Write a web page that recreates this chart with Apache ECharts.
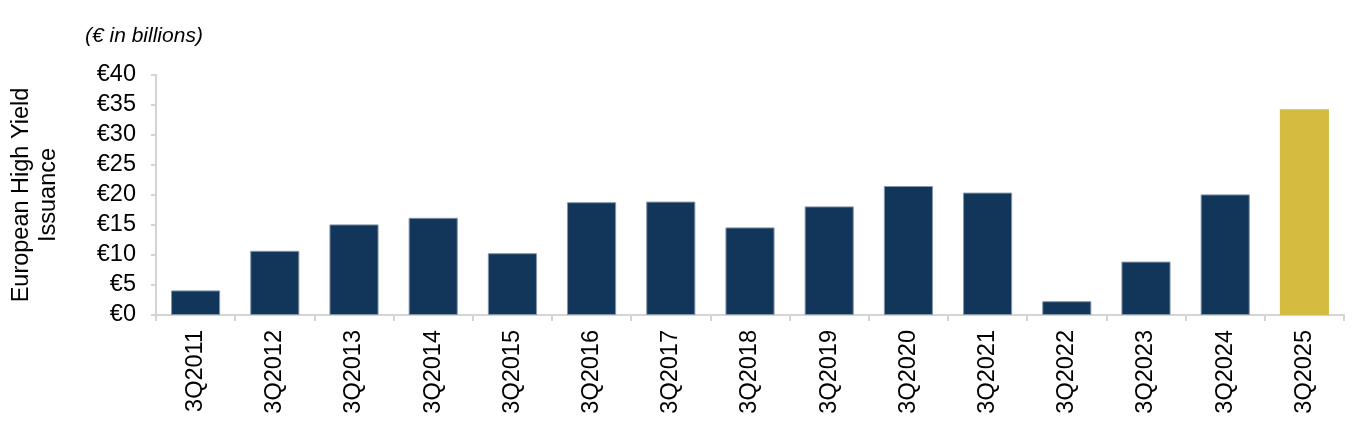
<!DOCTYPE html>
<html>
<head>
<meta charset="utf-8">
<script src="https://cdn.jsdelivr.net/npm/echarts@6/dist/echarts.min.js"></script>
<style>
  html, body { margin: 0; padding: 0; background: #fff; }
  #chart { width: 1356px; height: 432px; }
</style>
</head>
<body>
<div id="chart"></div>
<script>
  // quarters and issuance (€ bn)
  const quarters = ['3Q2011', '3Q2012', '3Q2013', '3Q2014', '3Q2015', '3Q2016', '3Q2017', '3Q2018',
    '3Q2019', '3Q2020', '3Q2021', '3Q2022', '3Q2023', '3Q2024', '3Q2025']
  const issuance = [4.1, 10.7, 15.1, 16.2, 10.3, 18.8, 18.9, 14.6, 18.1, 21.5, 20.4, 2.3, 8.9, 20.1, 34.3]
  const highlightQuarter = '3Q2025'

  const navy = '#123659'
  const gold = '#D4BC41'
  const font = 'Liberation Sans, Arial, sans-serif'

  let myChart = echarts.init(document.getElementById('chart'))
  myChart.setOption({
    animation: false,
    textStyle: { fontFamily: font },
    title: {
      text: '(€ in billions)',
      left: 80,
      top: 21,
      textStyle: { fontSize: 21, fontStyle: 'italic', fontWeight: 'normal', color: '#000', fontFamily: font }
    },
    grid: { left: 153, right: 12, top: 75, bottom: 117 },
    xAxis: {
      type: 'category',
      data: quarters,
      axisLine: { lineStyle: { color: '#d4d4d4', width: 2 } },
      axisTick: { show: true, length: 6, lineStyle: { color: '#d4d4d4', width: 2 } },
      axisLabel: { rotate: 90, margin: 15, fontSize: 23.5, color: '#000', interval: 0 }
    },
    yAxis: {
      type: 'value',
      min: 0,
      max: 40,
      interval: 5,
      name: 'European High Yield\nIssuance',
      nameLocation: 'middle',
      nameRotate: 90,
      nameGap: 94,
      nameTextStyle: { fontSize: 23.5, color: '#000', lineHeight: 27 },
      axisLine: { show: true, lineStyle: { color: '#d4d4d4', width: 2 } },
      axisTick: { show: true, length: 5, lineStyle: { color: '#d4d4d4', width: 2 } },
      splitLine: { show: false },
      axisLabel: { formatter: '€{value}', margin: 20, fontSize: 23.5, color: '#000' }
    },
    series: [
      {
        type: 'bar',
        barCategoryGap: '38%',
        data: issuance.map((v, i) => ({
          value: v,
          itemStyle: quarters[i] === highlightQuarter
            ? { color: gold }
            : { color: navy, borderColor: '#8295aa', borderWidth: 1 }
        }))
      }
    ]
  })
</script>
</body>
</html>
